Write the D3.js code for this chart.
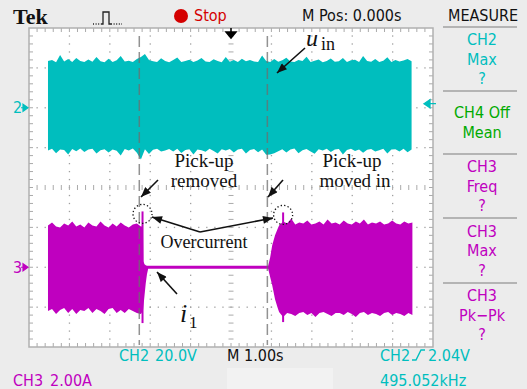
<!DOCTYPE html>
<html>
<head>
<meta charset="utf-8">
<script src="https://cdn.jsdelivr.net/npm/d3@7"></script>
<style>
  body { margin: 0; background: #ececec; }
  svg { display: block; }
  .scope { font-family: "Liberation Sans Narrow", "DejaVu Sans Condensed", sans-serif; font-size: 16px; }
  .note { font-family: "Liberation Serif", "DejaVu Serif", serif; fill: #111; }
</style>
</head>
<body>
<svg id="chart" width="527" height="389"></svg>
<script>
// time base M 1.00s/div, M Pos 0.000s -> screen spans -5 s .. 5 s
const timeDomain = [-5, 5];

// CH2 (u_in), 20.0 V/div, ground marker 2 div above centre
const ch2PerDiv = 20, ch2Offset = 2;
const ch2Start = -4.53, ch2Step = 0.1;
const ch2Top = [
  23.5, 24.0, 22.8, 26.5, 23.2, 24.5, 23.0, 25.0, 23.4, 22.9,
  24.2, 23.1, 25.5, 23.3, 22.8, 24.6, 23.0, 23.8, 26.0, 23.2,
  23.6, 22.9, 24.4, 25.5, 27.0, 24.0, 23.3, 23.0, 24.8, 23.4,
  22.8, 23.9, 25.2, 23.0, 23.5, 24.1, 22.9, 23.7, 25.0, 23.2,
  23.0, 24.3, 23.4, 22.8, 25.4, 23.1, 23.9, 23.0, 24.6, 23.3,
  24.0, 23.2, 22.9, 26.2, 23.5, 23.0, 24.4, 23.1, 23.8, 25.1,
  23.2, 22.9, 24.0, 23.4, 25.6, 23.0, 23.6, 24.2, 22.8, 23.5,
  24.7, 23.1, 23.3, 25.0, 22.9, 23.8, 24.1, 23.0, 26.0, 23.4,
  23.1, 24.5, 23.0, 23.6, 25.3, 22.9, 24.0, 23.2, 23.7, 24.4,
  23.3
];
const ch2Bottom = [
  -21.5, -20.6, -22.8, -20.9, -21.2, -23.5, -20.7, -21.8, -20.5, -22.2,
  -21.0, -20.6, -23.0, -21.3, -20.8, -22.4, -20.9, -21.6, -24.0, -20.7,
  -21.4, -20.5, -22.6, -26.0, -20.8, -23.2, -21.1, -20.6, -22.0, -21.5,
  -20.7, -21.9, -20.6, -22.7, -21.2, -20.8, -23.4, -20.9, -21.3, -22.1,
  -20.6, -21.7, -23.0, -20.8, -21.4, -20.7, -22.5, -21.0, -20.6, -22.9,
  -21.2, -20.7, -22.3, -20.9, -23.6, -23.5, -22.8, -21.8, -20.8, -22.4,
  -21.0, -20.5, -22.8, -21.3, -20.7, -21.9, -23.1, -20.8, -21.5, -20.6,
  -22.2, -21.0, -20.7, -23.5, -21.2, -20.6, -21.7, -20.9, -22.6, -21.1,
  -20.7, -22.0, -21.3, -20.6, -23.0, -21.0, -20.8, -21.9, -20.6, -22.3,
  -21.0
];

// CH3 (i_1), 2.00 A/div, ground marker 2 div below centre
const ch3PerDiv = 2, ch3Offset = -2;
const ch3LeftStart = -4.53, ch3Step = 0.1;
const ch3LeftTop = [
  2.1, 2.25, 2.05, 2.0, 2.2, 2.1, 2.3, 2.05, 2.15, 2.0,
  2.25, 2.1, 2.05, 2.3, 2.1, 2.0, 2.2, 2.05, 2.25, 2.1,
  2.0, 2.15, 2.2, 2.05
];
const ch3LeftBottom = [
  -2.2, -2.1, -2.35, -2.15, -2.05, -2.3, -2.1, -2.35, -2.15, -2.2,
  -2.05, -2.3, -2.1, -2.2, -2.35, -2.1, -2.05, -2.3, -2.15, -2.3,
  -2.1, -2.2, -2.3, -2.35
];
// pick-up removed: current collapses to the idle level
const ch3CutTime = [-2.18, -2.17, -2.14, -2.11, -2.08, -2.05];
const ch3CutTop = [2.05, 0.3, 0.15, 0.1, 0.08, 0.07];
const ch3CutBottom = [-2.2, -2.0, -1.4, -0.8, -0.35, -0.08];
const ch3IdleTime = [-2.05, 0.92];
const ch3IdleTop = [0.07, 0.07];
const ch3IdleBottom = [-0.08, -0.08];
// pick-up moved in: current builds up again
const ch3RiseTime = [0.92, 0.97, 1.02, 1.09, 1.15];
const ch3RiseTop = [0.07, 0.5, 1.1, 1.6, 1.9];
const ch3RiseBottom = [-0.08, -0.5, -0.9, -1.6, -2.0];
const ch3RightStart = 1.19;
const ch3RightTop = [
  2.1, 2.3, 2.2, 2.45, 2.15, 2.25, 2.2, 2.35, 2.15, 2.2,
  2.3, 2.15, 2.4, 2.2, 2.25, 2.15, 2.35, 2.2, 2.15, 2.3,
  2.2, 2.4, 2.15, 2.25, 2.2, 2.3, 2.15, 2.2, 2.35, 2.2,
  2.15, 2.3, 2.2, 2.25
];
const ch3RightBottom = [
  -2.25, -2.5, -2.3, -2.35, -2.45, -2.3, -2.25, -2.4, -2.3, -2.5,
  -2.3, -2.25, -2.35, -2.45, -2.3, -2.3, -2.4, -2.25, -2.35, -2.5,
  -2.3, -2.25, -2.4, -2.3, -2.35, -2.45, -2.3, -2.25, -2.4, -2.3,
  -2.35, -2.45, -2.3, -2.4
];
// overcurrent spikes
const ch3SpikeTime = [-2.19, 1.29];
const ch3SpikeHigh = [2.8, 2.75];
const ch3SpikeLow = [-2.8, -2.75];

// dashed event markers (s)
const eventTime = [-2.27, 0.9];

// MEASURE panel
const measureLines = [["CH2", "Max", "?"], ["CH4 Off", "Mean"], ["CH3", "Freq", "?"], ["CH3", "Max", "?"], ["CH3", "Pk\u2212Pk", "?"]];
const measureColor = ["#00bebe", "#00aa00", "#bf00bf", "#bf00bf", "#bf00bf"];

const CYAN = "#00bebe", MAG = "#bf00bf";

const svg = d3.select("#chart");
const plot = {x0: 29, x1: 433, y0: 28, y1: 347};

const x = d3.scaleLinear().domain(timeDomain).range([plot.x0, plot.x1]);
const yDiv = d3.scaleLinear().domain([-4, 4]).range([plot.y1, plot.y0]);
const y2 = d3.scaleLinear().domain([(-4 - ch2Offset) * ch2PerDiv, (4 - ch2Offset) * ch2PerDiv]).range([plot.y1, plot.y0]);
const y3 = d3.scaleLinear().domain([(-4 - ch3Offset) * ch3PerDiv, (4 - ch3Offset) * ch3PerDiv]).range([plot.y1, plot.y0]);

svg.append("rect").attr("width", 527).attr("height", 389).attr("fill", "#ececec");
svg.append("rect").attr("x", 227).attr("y", 368).attr("width", 106).attr("height", 21).attr("fill", "#f2f2f2");

// graticule
svg.append("rect")
  .attr("x", plot.x0).attr("y", plot.y0)
  .attr("width", plot.x1 - plot.x0).attr("height", plot.y1 - plot.y0)
  .attr("fill", "#fff");

const grid = svg.append("g").attr("fill", "#a0a0a0");
const minor = d3.range(-4.8, 4.81, 0.2);
const minorY = d3.range(-3.8, 3.81, 0.2);
[-4, -3, -2, -1, 1, 2, 3, 4].forEach(t => {
  grid.selectAll(null).data(minorY).enter().append("rect")
    .attr("x", x(t) - 0.6).attr("y", d => yDiv(d) - 0.6)
    .attr("width", 1.3).attr("height", 1.3);
});
[-3, -2, -1, 1, 2, 3].forEach(v => {
  grid.selectAll(null).data(minor).enter().append("rect")
    .attr("x", d => x(d) - 0.6).attr("y", yDiv(v) - 0.6)
    .attr("width", 1.3).attr("height", 1.3);
});

const ticks = svg.append("g").attr("stroke", "#aaa").attr("stroke-width", 1);
// centre cross
ticks.selectAll(null).data(minorY).enter().append("line")
  .attr("x1", x(0) - 2.5).attr("x2", x(0) + 2.5)
  .attr("y1", d => yDiv(d)).attr("y2", d => yDiv(d));
ticks.selectAll(null).data(minor).enter().append("line")
  .attr("x1", d => x(d)).attr("x2", d => x(d))
  .attr("y1", yDiv(0) - 2.5).attr("y2", yDiv(0) + 2.5);
// border ticks
ticks.selectAll(null).data(minor).enter().append("line")
  .attr("x1", d => x(d)).attr("x2", d => x(d))
  .attr("y1", plot.y0).attr("y2", plot.y0 + 4);
ticks.selectAll(null).data(minor).enter().append("line")
  .attr("x1", d => x(d)).attr("x2", d => x(d))
  .attr("y1", plot.y1).attr("y2", plot.y1 - 4);
ticks.selectAll(null).data(minorY).enter().append("line")
  .attr("x1", plot.x0).attr("x2", plot.x0 + 4)
  .attr("y1", d => yDiv(d)).attr("y2", d => yDiv(d));
ticks.selectAll(null).data(minorY).enter().append("line")
  .attr("x1", plot.x1).attr("x2", plot.x1 - 4)
  .attr("y1", d => yDiv(d)).attr("y2", d => yDiv(d));

svg.append("rect")
  .attr("x", plot.x0).attr("y", plot.y0)
  .attr("width", plot.x1 - plot.x0).attr("height", plot.y1 - plot.y0)
  .attr("fill", "none").attr("stroke", "#b0b0b0").attr("stroke-width", 1.5);

// traces
const band = (ys) => d3.area()
  .x(d => x(d.t))
  .y0(d => ys(d.lo))
  .y1(d => ys(d.hi))
  .curve(d3.curveLinear);

const ch2Data = ch2Top.map((v, i) => ({t: ch2Start + i * ch2Step, hi: v, lo: ch2Bottom[i]}));
svg.append("path").datum(ch2Data).attr("d", band(y2)).attr("fill", CYAN);

const ch3Data = [].concat(
  ch3LeftTop.map((v, i) => ({t: ch3LeftStart + i * ch3Step, hi: v, lo: ch3LeftBottom[i]})),
  ch3CutTime.map((t, i) => ({t: t, hi: ch3CutTop[i], lo: ch3CutBottom[i]})),
  ch3IdleTime.map((t, i) => ({t: t, hi: ch3IdleTop[i], lo: ch3IdleBottom[i]})),
  ch3RiseTime.map((t, i) => ({t: t, hi: ch3RiseTop[i], lo: ch3RiseBottom[i]})),
  ch3RightTop.map((v, i) => ({t: ch3RightStart + i * ch3Step, hi: v, lo: ch3RightBottom[i]}))
);
svg.append("path").datum(ch3Data).attr("d", band(y3)).attr("fill", MAG);

svg.selectAll(".spike").data(ch3SpikeTime).enter().append("line")
  .attr("class", "spike")
  .attr("x1", d => x(d)).attr("x2", d => x(d))
  .attr("y1", (d, i) => y3(ch3SpikeHigh[i])).attr("y2", (d, i) => y3(ch3SpikeLow[i]))
  .attr("stroke", MAG).attr("stroke-width", 2);

// dashed event lines
svg.selectAll(".event").data(eventTime).enter().append("line")
  .attr("class", "event")
  .attr("x1", d => x(d)).attr("x2", d => x(d))
  .attr("y1", plot.y0 + 8).attr("y2", plot.y1 - 2)
  .attr("stroke", "#6e6e6e").attr("stroke-opacity", 0.75)
  .attr("stroke-width", 1.5).attr("stroke-dasharray", "11,5");

// channel markers
const marker = (yy, label, color) => {
  svg.append("text").attr("class", "scope").attr("x", 13).attr("y", yy + 5.5)
    .attr("fill", color).text(label);
  svg.append("path").attr("d", `M21,${yy} H24 M23,${yy - 3.5} L28,${yy} L23,${yy + 3.5} Z`)
    .attr("fill", color).attr("stroke", color).attr("stroke-width", 1.2);
};
marker(y2(0), "2", CYAN);
marker(y3(0), "3", MAG);

// trigger level (CH2 2.04V) and trigger position
const trigY = y2(2.04);
svg.append("path").attr("d", `M424,${trigY} L430,${trigY - 4} L430,${trigY + 4} Z M429,${trigY} H436`)
  .attr("fill", CYAN).attr("stroke", CYAN).attr("stroke-width", 1.3);
svg.append("path").attr("d", `M${x(0)},28 V34 M${x(0) - 5},32 L${x(0)},38 L${x(0) + 5},32 Z`)
  .attr("fill", "#000").attr("stroke", "#000").attr("stroke-width", 1.5);

// header
svg.append("text").attr("x", 13).attr("y", 24)
  .style("font-family", "'Liberation Serif', serif").style("font-weight", "bold").style("font-size", "22px")
  .attr("fill", "#111").text("Tek");
svg.append("path").attr("d", "M93,24 H101 M111,24 H122").attr("stroke", "#222")
  .attr("stroke-width", 1.3).attr("stroke-dasharray", "1,1.6");
svg.append("path").attr("d", "M101,24 H103 V12 H109 V24 H111").attr("fill", "none")
  .attr("stroke", "#222").attr("stroke-width", 1.3);
svg.append("circle").attr("cx", 181).attr("cy", 16).attr("r", 7).attr("fill", "#d40000");
svg.append("text").attr("class", "scope").attr("x", 194).attr("y", 21).attr("fill", "#d40000").text("Stop");
svg.append("text").attr("class", "scope").attr("x", 302).attr("y", 20.5).attr("fill", "#111").text("M Pos: 0.000s");
svg.append("text").attr("class", "scope").attr("x", 448).attr("y", 21).attr("fill", "#111").text("MEASURE");

// MEASURE panel
const sepY = [27, 91, 154, 218, 283, 347];
svg.selectAll(".sep").data(sepY.slice(0, 5)).enter().append("line")
  .attr("class", "sep").attr("x1", 443).attr("x2", 517)
  .attr("y1", d => d).attr("y2", d => d)
  .attr("stroke", "#b4b4b4").attr("stroke-width", 2);
measureLines.forEach((lines, gi) => {
  const mid = (sepY[gi] + sepY[gi + 1]) / 2;
  lines.forEach((s, li) => {
    svg.append("text").attr("class", "scope")
      .attr("x", 482).attr("text-anchor", "middle")
      .attr("y", mid + (li - (lines.length - 1) / 2) * 19.5 + 5.5)
      .attr("fill", measureColor[gi]).text(s);
  });
});

// footer
const foot = [
  {x: 119, y: 361, s: "CH2", c: CYAN}, {x: 155, y: 361, s: "20.0V", c: CYAN},
  {x: 227, y: 361, s: "M 1.00s", c: "#111"},
  {x: 380, y: 361, s: "CH2", c: CYAN}, {x: 428, y: 361, s: "2.04V", c: CYAN},
  {x: 13, y: 386, s: "CH3", c: MAG}, {x: 50, y: 386, s: "2.00A", c: MAG},
  {x: 380, y: 386, s: "495.052kHz", c: CYAN}
];
svg.selectAll(".foot").data(foot).enter().append("text")
  .attr("class", "scope").attr("x", d => d.x).attr("y", d => d.y)
  .attr("fill", d => d.c).text(d => d.s);
svg.append("path").attr("d", "M412,360 H416 L421,350 H425").attr("fill", "none")
  .attr("stroke", CYAN).attr("stroke-width", 1.4);

// annotations
const defs = svg.append("defs");
defs.append("marker").attr("id", "ah").attr("viewBox", "0 0 10 8")
  .attr("refX", 10).attr("refY", 4).attr("markerWidth", 11).attr("markerHeight", 8)
  .attr("markerUnits", "userSpaceOnUse").attr("orient", "auto")
  .append("path").attr("d", "M0,0 L10,4 L0,8 Z").attr("fill", "#111");

const arrow = (x1, y1, x2, y2) => svg.append("line")
  .attr("x1", x1).attr("y1", y1).attr("x2", x2).attr("y2", y2)
  .attr("stroke", "#111").attr("stroke-width", 1.6).attr("marker-end", "url(#ah)");

const note = (xx, yy, s, size, anchor) => svg.append("text").attr("class", "note")
  .attr("x", xx).attr("y", yy).attr("text-anchor", anchor || "middle")
  .style("font-size", size + "px").text(s);

// u_in
svg.append("text").attr("class", "note").attr("x", 306).attr("y", 46)
  .style("font-size", "24px").style("font-style", "italic").text("u");
note(321, 50, "in", 18, "start");
arrow(305, 48, 277, 73);

note(204, 166.5, "Pick-up", 19);
note(204, 186.5, "removed", 19);
note(352, 166.5, "Pick-up", 19);
note(355, 186.5, "moved in", 19);
arrow(158, 180, 141, 197);
arrow(283, 180, 268, 197);

ch3SpikeTime.forEach((t, i) => {
  svg.append("circle").attr("cx", x(t)).attr("cy", y3(ch3SpikeHigh[i]) + 2.5).attr("r", 9.5)
    .attr("fill", "none").attr("stroke", "#111").attr("stroke-width", 1.3)
    .attr("stroke-dasharray", "1.3,2.2");
});
arrow(200, 232, 152, 217);
arrow(200, 232, 273, 218);
note(204, 248, "Overcurrent", 18);

svg.append("text").attr("class", "note").attr("x", 180).attr("y", 322)
  .style("font-size", "26px").style("font-style", "italic").text("i");
note(189, 328, "1", 17, "start");
arrow(177, 294, 157, 272);
</script>
</body>
</html>
